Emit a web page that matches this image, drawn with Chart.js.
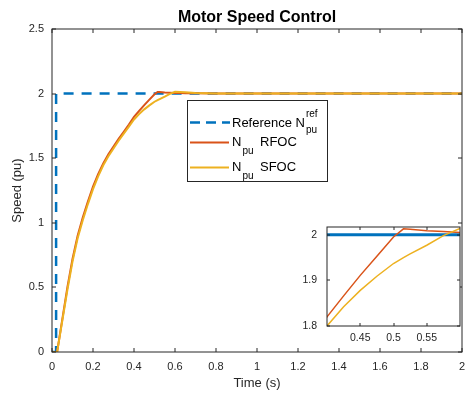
<!DOCTYPE html>
<html><head><meta charset="utf-8">
<script src="https://cdn.jsdelivr.net/npm/chart.js@4/dist/chart.umd.min.js"></script>
<style>
html,body{margin:0;padding:0;background:#fff;}
#wrap{position:relative;width:474px;height:394px;overflow:hidden;}
#main{position:absolute;left:0;top:0;}
#inset{position:absolute;left:297px;top:222px;}
</style></head><body>
<div id="wrap"><canvas id="main" width="474" height="394"></canvas><canvas id="inset" width="167" height="130"></canvas></div>
<script>
// ---- data ----
const timeRef  = [0, 0.02, 0.02, 2];
const speedRef = [0, 0, 2, 2];
const time = [0, 0.025, 0.05, 0.075, 0.1, 0.125, 0.15, 0.175, 0.2, 0.225, 0.25, 0.275, 0.3, 0.325, 0.35, 0.375, 0.4, 0.425, 0.45, 0.475, 0.5, 0.515, 0.525, 0.55, 0.575, 0.6, 0.625, 0.65, 0.7, 0.8, 1.0, 1.5, 2.0];
const speedRFOC = [0, 0, 0.25, 0.50, 0.72, 0.90, 1.04, 1.165, 1.28, 1.376, 1.46, 1.53, 1.59, 1.65, 1.705, 1.76, 1.82, 1.866, 1.911, 1.953, 1.995, 2.013, 2.012, 2.009, 2.007, 2.005, 2.004, 2.003, 2.002, 2.0, 2.0, 2.0, 2.0];
const speedSFOC = [0, 0, 0.24, 0.48, 0.70, 0.88, 1.02, 1.145, 1.26, 1.36, 1.445, 1.515, 1.575, 1.635, 1.69, 1.745, 1.80, 1.842, 1.878, 1.909, 1.937, 1.95, 1.958, 1.977, 1.998, 2.014, 2.013, 2.01, 2.005, 2.001, 2.0, 2.0, 2.0];
const xTicksMain = [0, 0.2, 0.4, 0.6, 0.8, 1, 1.2, 1.4, 1.6, 1.8, 2];
const yTicksMain = [0, 0.5, 1, 1.5, 2, 2.5];
const xTicksInset = [0.45, 0.5, 0.55];
const yTicksInset = [1.8, 1.9, 2];
const titleText = 'Motor Speed Control';
const xLabel = 'Time (s)';
const yLabel = 'Speed (pu)';

const BLUE = '#0072BD', RED = '#D95319', YEL = '#EDB120', TXT = '#262626';
const FONT = '"Liberation Sans", Arial, Helvetica, sans-serif';

const pts = (xs, ys) => xs.map((x, i) => ({x, y: ys[i]}));

function framePlugin(xt, yt, len, bg) {
  return {
    id: 'frame',
    beforeDatasetsDraw(chart) {
      if (!bg) return;
      const {ctx, chartArea: a} = chart;
      ctx.save(); ctx.fillStyle = '#fff';
      ctx.fillRect(a.left, a.top, a.right - a.left, a.bottom - a.top);
      ctx.restore();
    },
    afterDatasetsDraw(chart) {
      const {ctx, chartArea: a, scales: {x, y}} = chart;
      ctx.save();
      ctx.strokeStyle = TXT; ctx.lineWidth = 1;
      ctx.beginPath();
      for (const v of xt) {
        const p = Math.round(x.getPixelForValue(v));
        ctx.moveTo(p, a.bottom); ctx.lineTo(p, a.bottom - len);
        ctx.moveTo(p, a.top); ctx.lineTo(p, a.top + len);
      }
      for (const v of yt) {
        const p = Math.round(y.getPixelForValue(v));
        ctx.moveTo(a.left, p); ctx.lineTo(a.left + len, p);
        ctx.moveTo(a.right, p); ctx.lineTo(a.right - len, p);
      }
      ctx.stroke();
      ctx.strokeRect(a.left, a.top, a.right - a.left, a.bottom - a.top);
      ctx.restore();
    }
  };
}

const titlePlugin = {
  id: 'mtitle',
  afterDraw(chart) {
    const {ctx, chartArea: a} = chart;
    ctx.save();
    ctx.fillStyle = '#000';
    ctx.font = 'bold 16px ' + FONT;
    ctx.textAlign = 'center'; ctx.textBaseline = 'alphabetic';
    ctx.fillText(titleText, (a.left + a.right) / 2, 22);
    ctx.restore();
  }
};

const legendPlugin = {
  id: 'mlegend',
  afterDraw(chart) {
    const ctx = chart.ctx;
    ctx.save();
    const L = 187, T = 100, R = 327, B = 181;
    ctx.fillStyle = '#fff';
    ctx.fillRect(L, T, R - L, B - T);
    ctx.strokeStyle = TXT; ctx.lineWidth = 1;
    ctx.strokeRect(L + 0.5, T + 0.5, R - L, B - T);
    // samples
    ctx.lineWidth = 2.5; ctx.strokeStyle = BLUE; ctx.setLineDash([10, 6]);
    ctx.beginPath(); ctx.moveTo(190, 122.5); ctx.lineTo(230, 122.5); ctx.stroke();
    ctx.setLineDash([]); ctx.lineWidth = 2;
    ctx.strokeStyle = RED; ctx.beginPath(); ctx.moveTo(190, 142.5); ctx.lineTo(229, 142.5); ctx.stroke();
    ctx.strokeStyle = YEL; ctx.beginPath(); ctx.moveTo(190, 167.5); ctx.lineTo(229, 167.5); ctx.stroke();
    // texts
    ctx.fillStyle = '#000'; ctx.textBaseline = 'alphabetic'; ctx.textAlign = 'left';
    ctx.font = '13px ' + FONT;
    ctx.fillText('Reference N', 232, 127);
    const w1 = ctx.measureText('Reference N').width;
    ctx.fillText('N', 232, 146);
    ctx.fillText('N', 232, 171);
    ctx.fillText('RFOC', 260, 146);
    ctx.fillText('SFOC', 260, 171);
    const wN = ctx.measureText('N').width;
    ctx.font = '10px ' + FONT;
    ctx.fillText('ref', 232 + w1 + 1, 117);
    ctx.fillText('pu', 232 + w1 + 1, 133);
    ctx.fillText('pu', 232 + wN + 1, 154);
    ctx.fillText('pu', 232 + wN + 1, 179);
    ctx.restore();
  }
};

const tickCfg = (size) => ({color: TXT, font: {family: FONT, size}, maxRotation: 0, autoSkip: false});
const noPad = s => { s.paddingTop = 0; s.paddingBottom = 0; s.paddingLeft = 0; s.paddingRight = 0; };

new Chart(document.getElementById('main'), {
  type: 'line',
  data: {
    datasets: [
      {data: pts(time, speedSFOC), borderColor: YEL, borderWidth: 2, pointRadius: 0, tension: 0, order: 0},
      {data: pts(time, speedRFOC), borderColor: RED, borderWidth: 2, pointRadius: 0, tension: 0, order: 1},
      {data: pts(timeRef, speedRef), borderColor: BLUE, borderWidth: 2.5, borderDash: [10, 8], pointRadius: 0, tension: 0, order: 2}
    ]
  },
  options: {
    responsive: false, devicePixelRatio: 1, animation: false,
    layout: {padding: {top: 29, right: 12, left: 0, bottom: 0}},
    plugins: {legend: {display: false}, tooltip: {enabled: false}, title: {display: false}},
    scales: {
      x: {
        type: 'linear', min: 0, max: 2,
        afterBuildTicks: s => { s.ticks = xTicksMain.map(v => ({value: v})); },
        afterFit: s => { s.height = 42; noPad(s); },
        ticks: Object.assign(tickCfg(11), {padding: 0, callback: v => String(v)}),
        grid: {display: false}, border: {display: false},
        title: {display: true, text: xLabel, color: TXT, font: {family: FONT, size: 13}, padding: {top: 0, bottom: 3}}
      },
      y: {
        type: 'linear', min: 0, max: 2.5,
        afterBuildTicks: s => { s.ticks = yTicksMain.map(v => ({value: v})); },
        afterFit: s => { s.width = 52; noPad(s); },
        ticks: Object.assign(tickCfg(11), {padding: 0, callback: v => String(v)}),
        grid: {display: false}, border: {display: false},
        title: {display: true, text: yLabel, color: TXT, font: {family: FONT, size: 13}, padding: {top: 10, bottom: 0}}
      }
    }
  },
  plugins: [framePlugin(xTicksMain, yTicksMain, 4, false), titlePlugin, legendPlugin]
});

new Chart(document.getElementById('inset'), {
  type: 'line',
  data: {
    datasets: [
      {data: pts(time, speedSFOC), borderColor: YEL, borderWidth: 1.5, pointRadius: 0, tension: 0, order: 0},
      {data: pts(time, speedRFOC), borderColor: RED, borderWidth: 1.5, pointRadius: 0, tension: 0, order: 1},
      {data: pts(timeRef, speedRef), borderColor: BLUE, borderWidth: 3, pointRadius: 0, tension: 0, order: 2}
    ]
  },
  options: {
    responsive: false, devicePixelRatio: 1, animation: false,
    layout: {padding: {top: 5, right: 4, left: 0, bottom: 0}},
    plugins: {legend: {display: false}, tooltip: {enabled: false}},
    scales: {
      x: {
        type: 'linear', min: 0.4, max: 0.6,
        afterBuildTicks: s => { s.ticks = xTicksInset.map(v => ({value: v})); },
        afterFit: s => { s.height = 26; noPad(s); },
        ticks: Object.assign(tickCfg(10.5), {padding: -2, callback: v => String(v)}),
        grid: {display: false}, border: {display: false}
      },
      y: {
        type: 'linear', min: 1.8, max: 2.017,
        afterBuildTicks: s => { s.ticks = yTicksInset.map(v => ({value: v})); },
        afterFit: s => { s.width = 30; noPad(s); },
        ticks: Object.assign(tickCfg(10.5), {padding: 2, callback: v => String(v)}),
        grid: {display: false}, border: {display: false}
      }
    }
  },
  plugins: [framePlugin(xTicksInset, yTicksInset, 3, true)]
});
</script>
</body></html>
